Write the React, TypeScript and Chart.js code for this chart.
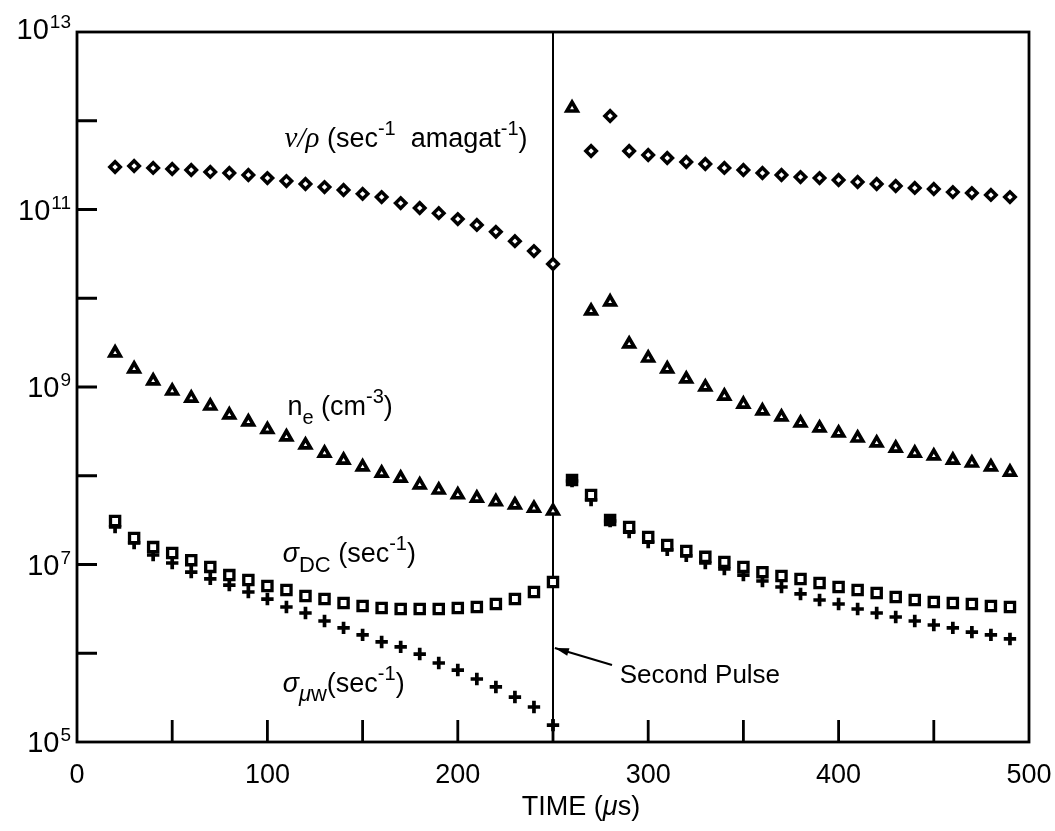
import React, { useEffect, useRef } from "react";
import { Chart, registerables } from "chart.js";

Chart.register(...registerables);

// Time (µs) of each measurement, before and after the second pulse
const timeBefore = [20, 30, 40, 50, 60, 70, 80, 90, 100, 110, 120, 130, 140, 150, 160, 170, 180, 190, 200, 210, 220, 230, 240, 250];
const timeAfter = [260, 270, 280, 290, 300, 310, 320, 330, 340, 350, 360, 370, 380, 390, 400, 410, 420, 430, 440, 450, 460, 470, 480, 490];

// ν/ρ (sec^-1 amagat^-1) — diamonds
const nuRhoBefore = [3.01e11, 3.09e11, 2.94e11, 2.86e11, 2.79e11, 2.65e11, 2.58e11, 2.45e11, 2.26e11, 2.09e11, 1.94e11, 1.79e11, 1.66e11, 1.5e11, 1.38e11, 1.18e11, 1.04e11, 9.1e10, 7.8e10, 6.7e10, 5.6e10, 4.4e10, 3.4e10, 2.43e10];
const nuRhoAfter = [null, 4.56e11, 1.13e12, 4.56e11, 4.11e11, 3.8e11, 3.43e11, 3.26e11, 2.94e11, 2.79e11, 2.58e11, 2.45e11, 2.32e11, 2.26e11, 2.15e11, 2.04e11, 1.94e11, 1.84e11, 1.75e11, 1.7e11, 1.57e11, 1.53e11, 1.46e11, 1.38e11];

// n_e (cm^-3) — triangles
const neBefore = [2.42e9, 1.6e9, 1.17e9, 9.0e8, 7.5e8, 6.1e8, 4.84e8, 4.04e8, 3.32e8, 2.74e8, 2.22e8, 1.8e8, 1.5e8, 1.26e8, 1.07e8, 9.4e7, 7.9e7, 6.9e7, 6.1e7, 5.6e7, 5.1e7, 4.7e7, 4.3e7, 4.0e7];
const neAfter = [1.39e12, 7.18e9, 9.08e9, 3.05e9, 2.12e9, 1.6e9, 1.23e9, 1.0e9, 7.9e8, 6.4e8, 5.37e8, 4.59e8, 3.93e8, 3.45e8, 3.03e8, 2.66e8, 2.34e8, 2.05e8, 1.8e8, 1.67e8, 1.5e8, 1.39e8, 1.26e8, 1.1e8];

// σ_DC (sec^-1) — squares
const sigmaDcBefore = [3.09e7, 1.99e7, 1.57e7, 1.35e7, 1.12e7, 9.4e6, 7.6e6, 6.7e6, 5.73e6, 5.16e6, 4.42e6, 4.09e6, 3.68e6, 3.41e6, 3.24e6, 3.15e6, 3.15e6, 3.15e6, 3.24e6, 3.32e6, 3.59e6, 4.09e6, 4.9e6, 6.35e6];
const sigmaDcAfter = [8.95e7, 6.07e7, 3.17e7, 2.65e7, 2.04e7, 1.66e7, 1.42e7, 1.22e7, 1.07e7, 9.4e6, 8.2e6, 7.41e6, 6.87e6, 6.19e6, 5.58e6, 5.16e6, 4.77e6, 4.31e6, 3.98e6, 3.78e6, 3.68e6, 3.59e6, 3.41e6, 3.32e6];

// σ_µw (sec^-1) — crosses
const sigmaMwBefore = [2.65e7, 1.75e7, 1.28e7, 1.04e7, 8.2e6, 6.9e6, 5.87e6, 4.9e6, 4.08e6, 3.32e6, 2.84e6, 2.31e6, 1.93e6, 1.61e6, 1.34e6, 1.18e6, 9.8e5, 7.76e5, 6.47e5, 5.13e5, 4.17e5, 3.21e5, 2.48e5, 1.55e5];
const sigmaMwAfter = [8.73e7, 5.33e7, 3.09e7, 2.32e7, 1.79e7, 1.46e7, 1.25e7, 1.04e7, 8.9e6, 7.6e6, 6.52e6, 5.58e6, 4.66e6, 3.98e6, 3.59e6, 3.15e6, 2.84e6, 2.56e6, 2.31e6, 2.08e6, 1.93e6, 1.73e6, 1.61e6, 1.45e6];

// Axis ticks
const xTickValues = [0, 50, 100, 150, 200, 250, 300, 350, 400, 450, 500];
const xTickLabels = ["0", "", "100", "", "200", "", "300", "", "400", "", "500"];
const yTickExponents = [5, 6, 7, 8, 9, 10, 11, 12, 13];
const yLabelExponents = [5, 7, 9, 11, 13];
const secondPulseTime = 250;

const SANS = "'Liberation Sans', Arial, Helvetica, sans-serif";
const SERIF = "'Liberation Serif', 'Times New Roman', serif";

function toPoints(xs: number[], ys: (number | null)[]) {
  const out: { x: number; y: number }[] = [];
  xs.forEach((x, i) => {
    const y = ys[i];
    if (y !== null && y !== undefined) out.push({ x, y });
  });
  return out;
}

type Seg = { t: string; font: string; dy?: number };

function drawRich(ctx: CanvasRenderingContext2D, segs: Seg[], x: number, y: number) {
  let cx = x;
  for (const s of segs) {
    ctx.font = s.font;
    ctx.fillText(s.t, cx, y + (s.dy || 0));
    cx += ctx.measureText(s.t).width;
  }
}

const decorPlugin = {
  id: "decor",
  beforeDatasetsDraw(chart: any) {
    const { ctx, chartArea, scales } = chart;
    const xs = scales.x;
    ctx.save();
    ctx.strokeStyle = "#000";
    ctx.lineWidth = 2;
    const lx = xs.getPixelForValue(secondPulseTime);
    ctx.beginPath();
    ctx.moveTo(lx, chartArea.top);
    ctx.lineTo(lx, chartArea.bottom);
    ctx.stroke();
    ctx.restore();
  },
  afterDatasetsDraw(chart: any) {
    const { ctx, chartArea, scales } = chart;
    const xs = scales.x;
    const ys = scales.y;
    const { left, right, top, bottom } = chartArea;
    ctx.save();
    ctx.strokeStyle = "#000";
    ctx.fillStyle = "#000";
    ctx.lineCap = "butt";

    // frame
    ctx.lineWidth = 2.8;
    ctx.strokeRect(left, top, right - left, bottom - top);

    // inward ticks
    ctx.lineWidth = 2.8;
    ctx.beginPath();
    for (const e of yTickExponents) {
      const y = ys.getPixelForValue(Math.pow(10, e));
      if (e === 5 || e === 13) continue;
      ctx.moveTo(left, y);
      ctx.lineTo(left + 20, y);
    }
    for (const v of xTickValues) {
      if (v === 0 || v === 500) continue;
      const x = xs.getPixelForValue(v);
      ctx.moveTo(x, bottom);
      ctx.lineTo(x, bottom - 22);
    }
    ctx.stroke();

    // x tick labels
    ctx.font = `27px ${SANS}`;
    ctx.textAlign = "center";
    ctx.textBaseline = "alphabetic";
    xTickValues.forEach((v, i) => {
      const lab = xTickLabels[i];
      if (!lab) return;
      ctx.fillText(lab, xs.getPixelForValue(v), bottom + 41);
    });

    // y tick labels: 10^n
    ctx.textAlign = "left";
    for (const e of yLabelExponents) {
      const y = ys.getPixelForValue(Math.pow(10, e));
      const base = "10";
      const exp = String(e);
      ctx.font = `29px ${SANS}`;
      const wb = ctx.measureText(base).width;
      ctx.font = `19px ${SANS}`;
      const we = ctx.measureText(exp).width;
      const x0 = left - 7 - wb - we;
      const by = e === 13 ? y + 7 : y + 10;
      ctx.font = `29px ${SANS}`;
      ctx.fillText(base, x0, by);
      ctx.font = `19px ${SANS}`;
      ctx.fillText(exp, x0 + wb + 1, by - 11);
    }

    // axis title
    const tx = (left + right) / 2 + 28;
    const segsTitle: Seg[] = [
      { t: "TIME (", font: `27px ${SANS}` },
      { t: "μ", font: `italic 27px ${SANS}` },
      { t: "s)", font: `27px ${SANS}` },
    ];
    let tw = 0;
    for (const s of segsTitle) { ctx.font = s.font; tw += ctx.measureText(s.t).width; }
    drawRich(ctx, segsTitle, tx - tw / 2, bottom + 73);

    const main = `27px ${SANS}`;
    const small = `20px ${SANS}`;

    // ν/ρ label
    drawRich(ctx, [
      { t: "ν/ρ", font: `italic 29px ${SERIF}` },
      { t: " (sec", font: main },
      { t: "-1", font: small, dy: -12 },
      { t: "  amagat", font: main },
      { t: "-1", font: small, dy: -12 },
      { t: ")", font: main },
    ], xs.getPixelForValue(109), ys.getPixelForValue(Math.pow(10, 11.70)));

    // n_e label
    drawRich(ctx, [
      { t: "n", font: main },
      { t: "e", font: small, dy: 9 },
      { t: " (cm", font: main },
      { t: "-3", font: small, dy: -12 },
      { t: ")", font: main },
    ], xs.getPixelForValue(110.5), ys.getPixelForValue(Math.pow(10, 8.684)));

    // σ_DC label
    drawRich(ctx, [
      { t: "σ", font: `italic 27px ${SANS}` },
      { t: "DC", font: `22px ${SANS}`, dy: 10 },
      { t: " (sec", font: main },
      { t: "-1", font: small, dy: -12 },
      { t: ")", font: main },
    ], xs.getPixelForValue(108), ys.getPixelForValue(Math.pow(10, 7.028)));

    // σ_µw label
    drawRich(ctx, [
      { t: "σ", font: `italic 27px ${SANS}` },
      { t: "μ", font: `italic 22px ${SANS}`, dy: 9 },
      { t: "w", font: `22px ${SANS}`, dy: 9 },
      { t: "(sec", font: main },
      { t: "-1", font: small, dy: -12 },
      { t: ")", font: main },
    ], xs.getPixelForValue(108), ys.getPixelForValue(Math.pow(10, 5.563)));

    // Second Pulse
    ctx.font = `26px ${SANS}`;
    ctx.fillText("Second Pulse", xs.getPixelForValue(285), ys.getPixelForValue(Math.pow(10, 5.665)));

    // arrow
    const ax0 = xs.getPixelForValue(281);
    const ay0 = ys.getPixelForValue(Math.pow(10, 5.868));
    const ax1 = xs.getPixelForValue(251);
    const ay1 = ys.getPixelForValue(Math.pow(10, 6.059));
    ctx.lineWidth = 2.2;
    ctx.beginPath();
    ctx.moveTo(ax0, ay0);
    ctx.lineTo(ax1, ay1);
    ctx.stroke();
    const ang = Math.atan2(ay1 - ay0, ax1 - ax0);
    const hl = 14, hw = 4;
    ctx.beginPath();
    ctx.moveTo(ax1, ay1);
    ctx.lineTo(ax1 - hl * Math.cos(ang) + hw * Math.sin(ang), ay1 - hl * Math.sin(ang) - hw * Math.cos(ang));
    ctx.lineTo(ax1 - hl * Math.cos(ang) - hw * Math.sin(ang), ay1 - hl * Math.sin(ang) + hw * Math.cos(ang));
    ctx.closePath();
    ctx.fill();

    ctx.restore();
  },
};

export default function App() {
  const ref = useRef<HTMLCanvasElement | null>(null);

  useEffect(() => {
    document.body.style.margin = "0";
    const canvas = ref.current;
    if (!canvas) return;

    const squareFill = sigmaDcAfter.map((_, i) => (i === 0 || i === 2 ? "#000" : "#fff"));

    const chart = new Chart(canvas, {
      type: "scatter",
      data: {
        datasets: [
          {
            label: "ν/ρ",
            data: [...toPoints(timeBefore, nuRhoBefore), ...toPoints(timeAfter, nuRhoAfter)],
            pointStyle: "rectRot",
            pointRadius: 5.2,
            borderWidth: 3.5,
            borderColor: "#000",
            backgroundColor: "#fff",
          },
          {
            label: "n_e",
            data: [...toPoints(timeBefore, neBefore), ...toPoints(timeAfter, neAfter)],
            pointStyle: "triangle",
            pointRadius: 5.9,
            borderWidth: 3.7,
            borderColor: "#000",
            backgroundColor: "#fff",
          },
          {
            label: "σ_DC",
            data: [...toPoints(timeBefore, sigmaDcBefore), ...toPoints(timeAfter, sigmaDcAfter)],
            pointStyle: "rect",
            pointRadius: 6.5,
            borderWidth: 3.3,
            borderColor: "#000",
            pointBackgroundColor: [...sigmaDcBefore.map(() => "#fff"), ...squareFill],
            backgroundColor: "#fff",
          },
          {
            label: "σ_µw",
            data: [...toPoints(timeBefore, sigmaMwBefore), ...toPoints(timeAfter, sigmaMwAfter)],
            pointStyle: "cross",
            pointRadius: 6.2,
            borderWidth: 3.7,
            borderColor: "#000",
            backgroundColor: "#000",
          },
        ],
      },
      options: {
        animation: false,
        responsive: false,
        devicePixelRatio: 1,
        layout: { padding: { left: 77, right: 26, top: 32, bottom: 89 } },
        plugins: { legend: { display: false }, tooltip: { enabled: false } },
        scales: {
          x: { type: "linear", min: 0, max: 500, display: false },
          y: { type: "logarithmic", min: 1e5, max: 1e13, display: false },
        },
      },
      plugins: [decorPlugin],
    } as any);

    return () => chart.destroy();
  }, []);

  return (
    <div style={{ width: 1055, height: 831, background: "#fff" }}>
      <canvas ref={ref} width={1055} height={831} style={{ display: "block" }} />
    </div>
  );
}
